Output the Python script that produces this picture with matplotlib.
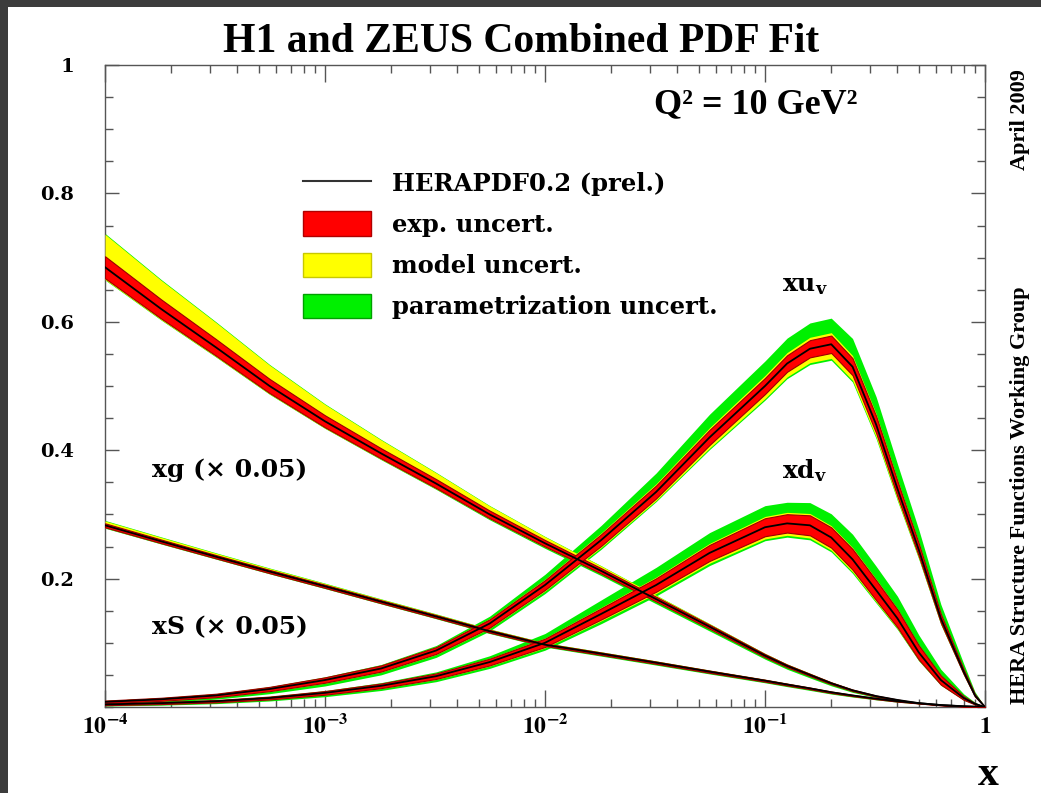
import numpy as np
import matplotlib
matplotlib.use('Agg')
import matplotlib.pyplot as plt
from matplotlib.patches import Patch, Rectangle
from matplotlib.lines import Line2D
from matplotlib.ticker import FixedLocator, NullFormatter, MultipleLocator, LogLocator

# x grid
x = [1e-4, 1.8e-4, 3.2e-4, 5.6e-4, 1e-3, 1.8e-3, 3.2e-3, 5.6e-3, 0.01, 0.018,
     0.032, 0.056, 0.1, 0.126, 0.16, 0.2, 0.25, 0.32, 0.4, 0.5, 0.63, 0.8, 0.9, 1.0]

# central values (HERAPDF0.2), xg and xS already scaled by 0.05
xg  = [0.685, 0.62, 0.56, 0.50, 0.445, 0.395, 0.348, 0.30, 0.255, 0.212, 0.168, 0.125,
       0.08, 0.064, 0.05, 0.037, 0.026, 0.017, 0.011, 0.006, 0.003, 0.001, 0.0005, 0.0]
xS  = [0.283, 0.258, 0.234, 0.211, 0.188, 0.164, 0.141, 0.118, 0.097, 0.083, 0.069, 0.055,
       0.041, 0.035, 0.029, 0.023, 0.018, 0.013, 0.009, 0.006, 0.003, 0.0012, 0.0005, 0.0]
xuv = [0.008, 0.012, 0.018, 0.028, 0.042, 0.06, 0.088, 0.13, 0.19, 0.26, 0.335, 0.42,
       0.50, 0.535, 0.558, 0.565, 0.53, 0.44, 0.34, 0.245, 0.138, 0.055, 0.018, 0.0]
xdv = [0.004, 0.006, 0.009, 0.014, 0.022, 0.033, 0.048, 0.07, 0.10, 0.145, 0.19, 0.24,
       0.28, 0.286, 0.283, 0.264, 0.23, 0.182, 0.138, 0.085, 0.042, 0.014, 0.005, 0.0]

# relative uncertainties: exp (symmetric), model up/down, parametrisation up/down
xg_exp   = [0.025, 0.024, 0.023, 0.022, 0.021, 0.02, 0.02, 0.02, 0.02, 0.02, 0.022, 0.025,
            0.03, 0.033, 0.036, 0.04, 0.045, 0.05, 0.06, 0.07, 0.08, 0.1, 0.1, 0.1]
xg_mup   = [0.05, 0.048, 0.046, 0.043, 0.038, 0.033, 0.028, 0.024, 0.02, 0.016, 0.013, 0.012,
            0.012, 0.012, 0.012, 0.012, 0.012, 0.012, 0.012, 0.012, 0.012, 0.012, 0.012, 0.0]
xg_mdn   = [0.003] * 23 + [0.0]
xg_pup   = [0.002] * 23 + [0.0]
xg_pdn   = [0.001, 0.001, 0.001, 0.001, 0.001, 0.002, 0.003, 0.005, 0.008, 0.012, 0.018, 0.025,
            0.035, 0.045, 0.055, 0.065, 0.075, 0.085, 0.1, 0.1, 0.1, 0.1, 0.1, 0.0]

xS_exp   = [0.011, 0.011, 0.011, 0.012, 0.013, 0.014, 0.016, 0.018, 0.02, 0.023, 0.027, 0.032,
            0.038, 0.042, 0.046, 0.05, 0.055, 0.06, 0.07, 0.08, 0.1, 0.1, 0.1, 0.0]
xS_mup   = [0.013, 0.013, 0.012, 0.011, 0.01, 0.01, 0.01, 0.01, 0.01, 0.01, 0.01, 0.01,
            0.01, 0.01, 0.01, 0.01, 0.01, 0.01, 0.01, 0.01, 0.01, 0.01, 0.01, 0.0]
xS_mdn   = [0.002] * 23 + [0.0]
xS_pup   = [0.003] * 23 + [0.0]
xS_pdn   = [0.003, 0.003, 0.003, 0.003, 0.004, 0.005, 0.007, 0.01, 0.015, 0.02, 0.025, 0.03,
            0.04, 0.05, 0.06, 0.07, 0.08, 0.08, 0.08, 0.08, 0.08, 0.08, 0.08, 0.0]

xuv_exp  = [0.25, 0.2, 0.15, 0.12, 0.1, 0.08, 0.06, 0.05, 0.04, 0.035, 0.03, 0.028,
            0.025, 0.024, 0.024, 0.024, 0.025, 0.03, 0.035, 0.04, 0.05, 0.07, 0.1, 0.0]
xuv_mup  = [0.008] * 23 + [0.0]
xuv_mdn  = [0.02, 0.02, 0.02, 0.02, 0.02, 0.015, 0.012, 0.01, 0.01, 0.01, 0.01, 0.012,
            0.014, 0.015, 0.015, 0.015, 0.015, 0.015, 0.015, 0.015, 0.015, 0.015, 0.015, 0.0]
xuv_pup  = [0.0, 0.0, 0.0, 0.005, 0.01, 0.015, 0.02, 0.03, 0.04, 0.045, 0.05, 0.05,
            0.045, 0.042, 0.04, 0.04, 0.05, 0.06, 0.07, 0.08, 0.1, 0.15, 0.2, 0.0]
xuv_pdn  = [0.25, 0.2, 0.15, 0.12, 0.1, 0.07, 0.05, 0.03, 0.02, 0.01, 0.005, 0.005,
            0.005, 0.005, 0.005, 0.005, 0.005, 0.005, 0.005, 0.005, 0.005, 0.005, 0.005, 0.0]

xdv_exp  = [0.3, 0.25, 0.2, 0.16, 0.13, 0.11, 0.09, 0.075, 0.065, 0.06, 0.055, 0.052,
            0.05, 0.05, 0.055, 0.06, 0.07, 0.085, 0.1, 0.13, 0.17, 0.2, 0.2, 0.0]
xdv_mup  = [0.01] * 23 + [0.0]
xdv_mdn  = [0.02, 0.02, 0.02, 0.02, 0.02, 0.02, 0.018, 0.016, 0.015, 0.015, 0.015, 0.015,
            0.015, 0.015, 0.015, 0.015, 0.015, 0.015, 0.015, 0.015, 0.015, 0.015, 0.015, 0.0]
xdv_pup  = [0.0, 0.0, 0.0, 0.01, 0.02, 0.03, 0.04, 0.055, 0.07, 0.08, 0.08, 0.07,
            0.06, 0.055, 0.06, 0.07, 0.09, 0.11, 0.14, 0.18, 0.22, 0.25, 0.25, 0.0]
xdv_pdn  = [0.3, 0.25, 0.2, 0.15, 0.12, 0.09, 0.07, 0.05, 0.035, 0.03, 0.02, 0.015,
            0.01, 0.01, 0.01, 0.01, 0.01, 0.01, 0.01, 0.01, 0.01, 0.01, 0.01, 0.0]

legend_labels = ['HERAPDF0.2 (prel.)', 'exp. uncert.', 'model uncert.', 'parametrization uncert.']
xtick_vals = [1e-4, 1e-3, 1e-2, 1e-1, 1]
xtick_labels = [r'$\mathbf{10^{-4}}$', r'$\mathbf{10^{-3}}$', r'$\mathbf{10^{-2}}$',
                r'$\mathbf{10^{-1}}$', r'$\mathbf{1}$']
ytick_vals = [0.2, 0.4, 0.6, 0.8, 1.0]
ytick_labels = ['0.2', '0.4', '0.6', '0.8', '1']

RED, YEL, GRN = '#ff0000', '#ffff00', '#00f000'

fig = plt.figure(figsize=(10.41, 7.93), dpi=100)
fig.patch.set_facecolor('#3c3c3c')
fig.patches.append(Rectangle((8 / 1041, 0), 1, 1 - 7 / 793, transform=fig.transFigure,
                             facecolor='white', edgecolor='none', zorder=-1))

ax = fig.add_axes([105 / 1041, 1 - 707 / 793, 880 / 1041, 642 / 793])
ax.set_xscale('log')
ax.set_xlim(1e-4, 1)
ax.set_ylim(0, 1)


def draw_pdf(cen, e, mu, md, pu, pd):
    cen = np.array(cen)
    e, mu, md, pu, pd = (np.array(a) * cen for a in (e, mu, md, pu, pd))
    ax.fill_between(x, cen - e - md - pd, cen + e + mu + pu, color=GRN, lw=0, zorder=2)
    ax.fill_between(x, cen - e - md, cen + e + mu, color=YEL, lw=0, zorder=3)
    ax.fill_between(x, cen - e, cen + e, facecolor=RED, edgecolor='#9a0000', lw=0.8, zorder=4)
    ax.plot(x, cen, color='black', lw=1.3, zorder=5)


draw_pdf(xg, xg_exp, xg_mup, xg_mdn, xg_pup, xg_pdn)
draw_pdf(xS, xS_exp, xS_mup, xS_mdn, xS_pup, xS_pdn)
draw_pdf(xuv, xuv_exp, xuv_mup, xuv_mdn, xuv_pup, xuv_pdn)
draw_pdf(xdv, xdv_exp, xdv_mup, xdv_mdn, xdv_pup, xdv_pdn)

# axes styling
for s in ax.spines.values():
    s.set_color('#555555')
    s.set_linewidth(1.0)
ax.xaxis.set_major_locator(FixedLocator(xtick_vals))
ax.xaxis.set_minor_locator(LogLocator(base=10, subs=np.arange(2, 10)))
ax.xaxis.set_minor_formatter(NullFormatter())
ax.set_xticklabels(xtick_labels, math_fontfamily='stix', fontsize=17)
ax.yaxis.set_major_locator(FixedLocator(ytick_vals))
ax.yaxis.set_minor_locator(MultipleLocator(0.05))
ax.set_yticklabels(ytick_labels, family='DejaVu Serif', fontweight='bold', fontsize=14)
ax.tick_params(which='both', direction='in', top=True, right=True, color='#555555')
ax.tick_params(axis='x', which='major', length=12, width=1, pad=5)
ax.tick_params(axis='x', which='minor', length=6, width=1)
ax.tick_params(axis='y', which='major', length=10, width=1, pad=22)
ax.tick_params(axis='y', which='minor', length=6, width=1)

# legend
handles = [Line2D([], [], color='#333333', lw=1.5),
           Patch(facecolor=RED, edgecolor='#b00000', lw=1),
           Patch(facecolor=YEL, edgecolor='#c8c800', lw=1),
           Patch(facecolor=GRN, edgecolor='#00a000', lw=1)]
leg = ax.legend(handles, legend_labels, loc='upper left', bbox_to_anchor=(0.225, 0.836),
                frameon=False, borderpad=0, borderaxespad=0, handlelength=2.8,
                handleheight=1.19, labelspacing=0.64, handletextpad=0.85,
                prop={'family': 'DejaVu Serif', 'weight': 'bold', 'size': 17.5})

# annotations
lab = dict(family='DejaVu Serif', fontweight='bold', fontsize=18, math_fontfamily='dejavuserif')
ax.text(3.7e-4, 0.369, 'xg (× 0.05)', ha='center', va='center', **lab)
ax.text(3.7e-4, 0.125, 'xS (× 0.05)', ha='center', va='center', **lab)
ax.text(0.152, 0.657, r'xu$_\mathbf{v}$', ha='center', va='center', **lab)
ax.text(0.152, 0.369, r'xd$_\mathbf{v}$', ha='center', va='center', **lab)
ax.text(0.739, 0.938, 'Q² = 10 GeV²', transform=ax.transAxes, ha='center', va='center',
        family='Liberation Serif', fontweight='bold', fontsize=26)

fig.text(521 / 1041, 1 - 42 / 793, 'H1 and ZEUS Combined PDF Fit', ha='center', va='center',
         family='Liberation Serif', fontweight='bold', fontsize=30)
fig.text(1020 / 1041, 1 - 120 / 793, 'April 2009', rotation=90, ha='center', va='center',
         family='Liberation Serif', fontweight='bold', fontsize=16)
fig.text(1020 / 1041, 1 - 495 / 793, 'HERA Structure Functions Working Group', rotation=90,
         ha='center', va='center', family='Liberation Serif', fontweight='bold', fontsize=16)
fig.text(988 / 1041, 1 - 775 / 793, 'x', ha='center', va='center',
         family='Liberation Serif', fontweight='bold', fontsize=30)

fig.savefig('out.png', dpi=100, facecolor=fig.get_facecolor())
